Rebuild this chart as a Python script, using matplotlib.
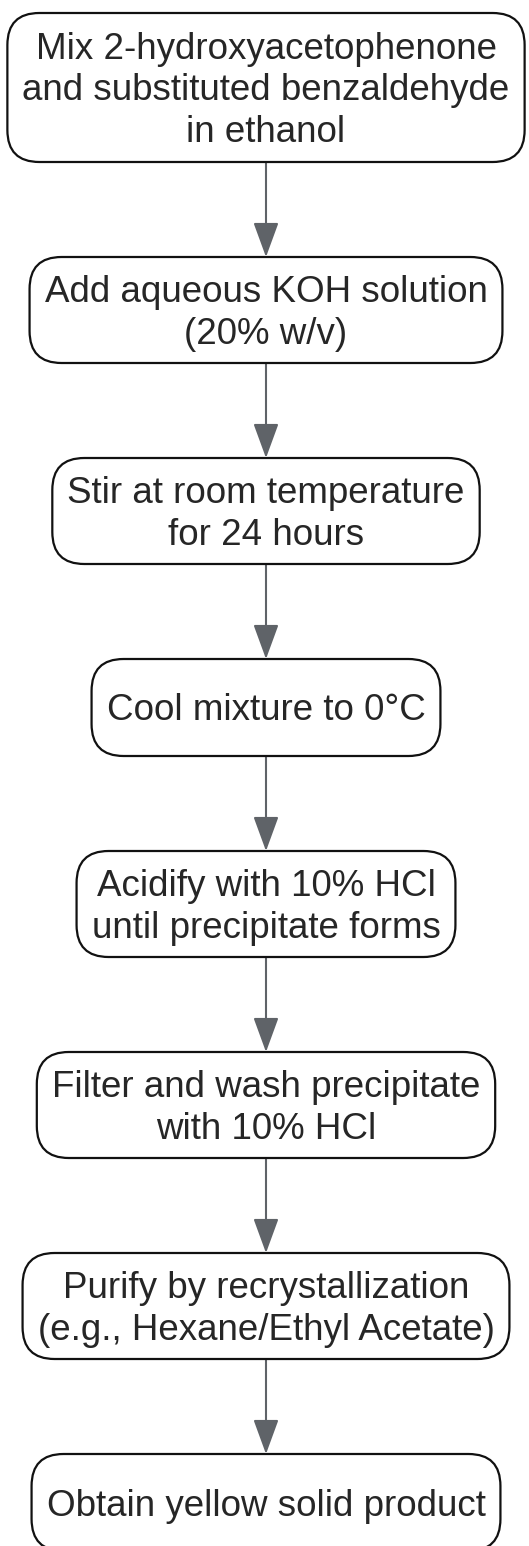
import matplotlib
matplotlib.use("Agg")
import matplotlib.pyplot as plt
from matplotlib.patches import FancyBboxPatch, FancyArrowPatch

plt.rcParams["font.family"] = ["Liberation Sans", "DejaVu Sans"]

# ---- Flowchart steps ----
steps = [
    "Mix 2-hydroxyacetophenone\nand substituted benzaldehyde\nin ethanol",
    "Add aqueous KOH solution\n(20% w/v)",
    "Stir at room temperature\nfor 24 hours",
    "Cool mixture to 0°C",
    "Acidify with 10% HCl\nuntil precipitate forms",
    "Filter and wash precipitate\nwith 10% HCl",
    "Purify by recrystallization\n(e.g., Hexane/Ethyl Acetate)",
    "Obtain yellow solid product",
]

# ---- Style ----
W, H = 529, 1546
TEXT = "#262626"
EDGE = "#111111"
ARROW = "#5f6368"
FONT = 26.5
CX = 266
TOP0 = 13
GAP = 95
PADX = 15
RADIUS = 32

fig = plt.figure(figsize=(W / 100, H / 100), dpi=100, facecolor="white")
ax = fig.add_axes([0, 0, 1, 1])
ax.set_xlim(0, W)
ax.set_ylim(H, 0)
ax.axis("off")

renderer = fig.canvas.get_renderer()

y = TOP0
prev_bottom = None
for label in steps:
    n = label.count("\n") + 1
    h = max(97, 20 + 43 * n)
    t = ax.text(CX, y + h / 2 + 3.5, label, ha="center", va="center",
                fontsize=FONT, color=TEXT, linespacing=1.25, zorder=3)
    bb = t.get_window_extent(renderer)
    w = bb.width + 2 * PADX
    box = FancyBboxPatch((CX - w / 2, y), w, h,
                         boxstyle=f"round,pad=0,rounding_size={RADIUS}",
                         facecolor="white", edgecolor=EDGE, linewidth=1.6, zorder=2)
    ax.add_patch(box)
    if prev_bottom is not None:
        arr = FancyArrowPatch((CX, prev_bottom), (CX, y),
                              arrowstyle="-|>,head_length=21.6,head_width=7.9",
                              mutation_scale=1, shrinkA=0, shrinkB=0,
                              color=ARROW, linewidth=1.5, zorder=1)
        ax.add_patch(arr)
    prev_bottom = y + h
    y = prev_bottom + GAP

fig.savefig("out.png", dpi=100, facecolor="white")
